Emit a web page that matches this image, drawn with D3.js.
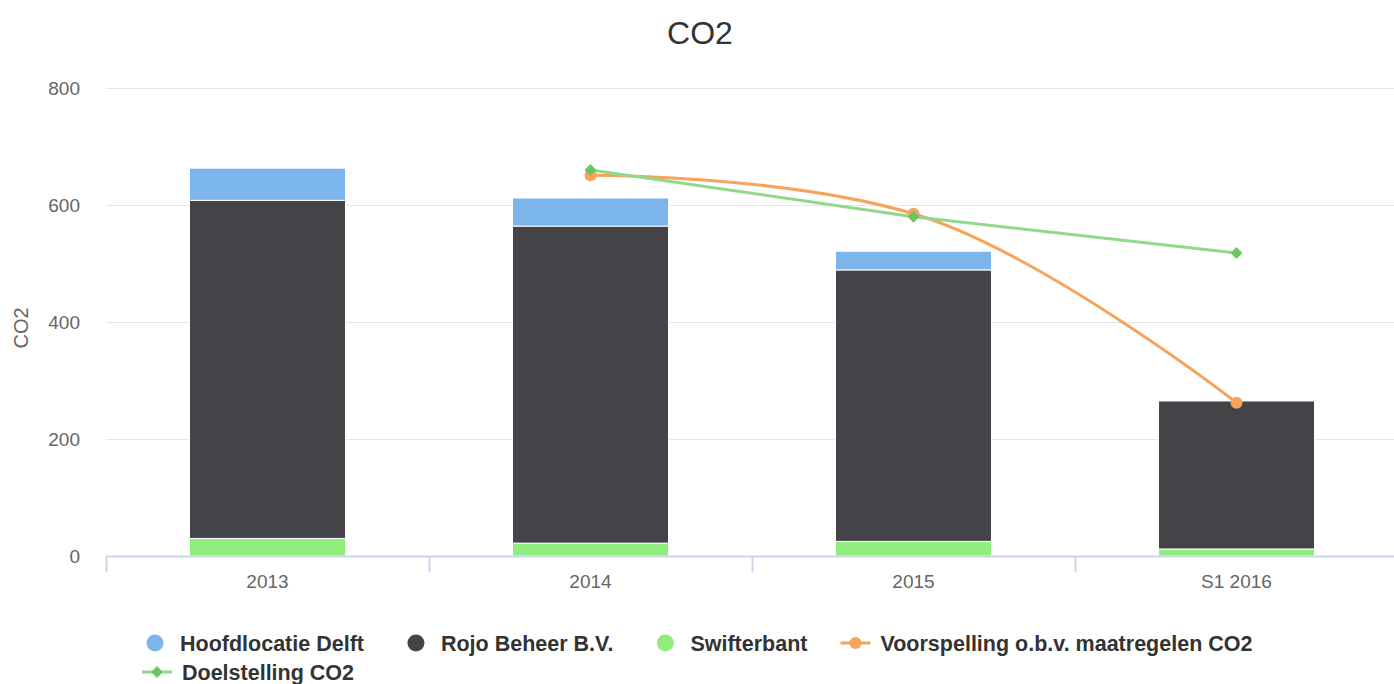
<!DOCTYPE html>
<html>
<head>
    <title>CO2</title>
    <script src="https://cdnjs.cloudflare.com/ajax/libs/d3/7.8.5/d3.min.js"></script>
    <style>
        body {
            margin: 0;
            padding: 0;
            background: white;
            font-family: "Liberation Sans", Helvetica, Arial, sans-serif;
        }
    </style>
</head>
<body>
    <svg id="chart" width="1394" height="684"></svg>
    <script>
        // Data
        const categories = ['2013', '2014', '2015', 'S1 2016'];
        const stackNames = ['Hoofdlocatie Delft', 'Rojo Beheer B.V.', 'Swifterbant'];
        const hoofdlocatie = [55, 48, 32, 0];
        const rojo = [578, 542, 464, 253];
        const swifterbant = [30, 22, 25, 12];
        const voorspelling = [null, 651, 585, 262];
        const doelstelling = [null, 660, 580, 518];
        const yTicks = [0, 200, 400, 600, 800];

        const colors = {
            'Hoofdlocatie Delft': '#7cb5ec',
            'Rojo Beheer B.V.': '#434348',
            'Swifterbant': '#90ed7d'
        };
        const orange = '#f7a35c';
        const green = '#90d98a';

        const width = 1394, height = 684;
        const margin = {top: 88, left: 106, right: -4, bottom: 128};
        const svg = d3.select('#chart');

        const x = d3.scaleBand()
            .domain(categories)
            .range([margin.left, width - margin.right]);
        const y = d3.scaleLinear()
            .domain([0, 800])
            .range([height - margin.bottom, margin.top]);

        // Title
        svg.append('text')
            .attr('x', width / 2 + 3)
            .attr('y', 44)
            .attr('text-anchor', 'middle')
            .attr('font-size', '32px')
            .attr('fill', '#333')
            .text('CO2');

        // Gridlines
        svg.append('g')
            .selectAll('line')
            .data(yTicks.filter(d => d > 0))
            .join('line')
            .attr('x1', margin.left)
            .attr('x2', width)
            .attr('y1', d => Math.round(y(d)) + 0.5)
            .attr('y2', d => Math.round(y(d)) + 0.5)
            .attr('stroke', '#e6e6e6');

        // Y labels
        svg.append('g')
            .selectAll('text')
            .data(yTicks)
            .join('text')
            .attr('x', 80)
            .attr('y', d => y(d) + 7)
            .attr('text-anchor', 'end')
            .attr('font-size', '19px')
            .attr('fill', '#666')
            .text(d => d);

        svg.append('text')
            .attr('transform', `translate(28,${y(400) + 6}) rotate(-90)`)
            .attr('text-anchor', 'middle')
            .attr('font-size', '20px')
            .attr('fill', '#666')
            .text('CO2');

        // Stacked bars
        const rows = categories.map((c, i) => ({
            cat: c,
            'Hoofdlocatie Delft': hoofdlocatie[i],
            'Rojo Beheer B.V.': rojo[i],
            'Swifterbant': swifterbant[i]
        }));
        const stack = d3.stack().keys(stackNames.slice().reverse());
        const layers = stack(rows);
        const barW = 156;

        svg.append('g')
            .selectAll('g')
            .data(layers)
            .join('g')
            .attr('fill', d => colors[d.key])
            .selectAll('rect')
            .data(d => d.filter(p => p[1] - p[0] > 0))
            .join('rect')
            .attr('x', d => x(d.data.cat) + x.bandwidth() / 2 - barW / 2)
            .attr('width', barW)
            .attr('y', d => y(d[1]))
            .attr('height', d => y(d[0]) - y(d[1]))
            .attr('stroke', '#fff')
            .attr('stroke-width', 1);

        // X axis
        const axisY = Math.round(y(0)) + 0.5;
        svg.append('line')
            .attr('x1', margin.left)
            .attr('x2', width)
            .attr('y1', axisY)
            .attr('y2', axisY)
            .attr('stroke', '#ccd6eb')
            .attr('stroke-width', 2);
        svg.append('g')
            .selectAll('line')
            .data(categories)
            .join('line')
            .attr('x1', d => Math.round(x(d)) + 0.5)
            .attr('x2', d => Math.round(x(d)) + 0.5)
            .attr('y1', axisY)
            .attr('y2', axisY + 16)
            .attr('stroke', '#ccd6eb')
            .attr('stroke-width', 2);
        svg.append('g')
            .selectAll('text')
            .data(categories)
            .join('text')
            .attr('x', d => x(d) + x.bandwidth() / 2)
            .attr('y', 588)
            .attr('text-anchor', 'middle')
            .attr('font-size', '19px')
            .attr('fill', '#666')
            .text(d => d);

        // Highcharts-like spline path
        function splinePath(pts) {
            const s = 1.5, den = s + 1;
            const cp = pts.map((p, i) => {
                if (i === 0 || i === pts.length - 1) return {lx: p[0], ly: p[1], rx: p[0], ry: p[1]};
                const a = pts[i - 1], b = pts[i + 1];
                let lx = (s * p[0] + a[0]) / den, ly = (s * p[1] + a[1]) / den;
                let rx = (s * p[0] + b[0]) / den, ry = (s * p[1] + b[1]) / den;
                const corr = ((ry - ly) * (rx - p[0])) / (rx - lx) + p[1] - ry;
                ly += corr; ry += corr;
                if (ly > a[1] && ly > p[1]) { ly = Math.max(a[1], p[1]); ry = 2 * p[1] - ly; }
                else if (ly < a[1] && ly < p[1]) { ly = Math.min(a[1], p[1]); ry = 2 * p[1] - ly; }
                if (ry > b[1] && ry > p[1]) { ry = Math.max(b[1], p[1]); ly = 2 * p[1] - ry; }
                else if (ry < b[1] && ry < p[1]) { ry = Math.min(b[1], p[1]); ly = 2 * p[1] - ry; }
                return {lx, ly, rx, ry};
            });
            let d = `M${pts[0][0]},${pts[0][1]}`;
            for (let i = 1; i < pts.length; i++) {
                d += `C${cp[i - 1].rx},${cp[i - 1].ry} ${cp[i].lx},${cp[i].ly} ${pts[i][0]},${pts[i][1]}`;
            }
            return d;
        }

        const cx = c => x(c) + x.bandwidth() / 2;
        const vPts = categories.map((c, i) => [cx(c), voorspelling[i] == null ? null : y(voorspelling[i])])
            .filter(p => p[1] != null);
        const dPts = categories.map((c, i) => [cx(c), doelstelling[i] == null ? null : y(doelstelling[i])])
            .filter(p => p[1] != null);

        // Voorspelling (spline)
        svg.append('path')
            .attr('d', splinePath(vPts))
            .attr('fill', 'none')
            .attr('stroke', orange)
            .attr('stroke-width', 3);
        svg.append('g')
            .selectAll('circle')
            .data(vPts)
            .join('circle')
            .attr('cx', d => d[0])
            .attr('cy', d => d[1])
            .attr('r', 6)
            .attr('fill', orange);

        // Doelstelling (line)
        svg.append('path')
            .attr('d', d3.line()(dPts))
            .attr('fill', 'none')
            .attr('stroke', green)
            .attr('stroke-width', 3);
        const diamond = d3.symbol().type(d3.symbolDiamond2).size(90);
        svg.append('g')
            .selectAll('path')
            .data(dPts)
            .join('path')
            .attr('transform', d => `translate(${d[0]},${d[1]})`)
            .attr('d', diamond)
            .attr('fill', '#6cc463');

        // Legend
        const legendItems = [
            {name: 'Hoofdlocatie Delft', type: 'dot', color: colors['Hoofdlocatie Delft']},
            {name: 'Rojo Beheer B.V.', type: 'dot', color: colors['Rojo Beheer B.V.']},
            {name: 'Swifterbant', type: 'dot', color: colors['Swifterbant']},
            {name: 'Voorspelling o.b.v. maatregelen CO2', type: 'circle', color: orange},
            {name: 'Doelstelling CO2', type: 'diamond', color: green}
        ];
        const legend = svg.append('g');
        let lx = 147, ly = 644;
        legendItems.forEach((item, i) => {
            if (i === 4) { lx = 142; ly = 673; }
            else if (item.type !== 'dot') lx -= 11;
            const g = legend.append('g').attr('transform', `translate(${lx},${ly})`);
            let textX;
            if (item.type === 'dot') {
                g.append('circle').attr('cx', 8).attr('cy', -1).attr('r', 8.5).attr('fill', item.color);
                textX = 33;
            } else {
                g.append('line').attr('x1', 0).attr('x2', 30).attr('y1', -1).attr('y2', -1)
                    .attr('stroke', item.color).attr('stroke-width', 3);
                if (item.type === 'circle') {
                    g.append('circle').attr('cx', 15).attr('cy', -1).attr('r', 6).attr('fill', item.color);
                } else {
                    g.append('path').attr('transform', 'translate(15,-1)').attr('d', diamond).attr('fill', '#6cc463');
                }
                textX = 40;
            }
            const t = g.append('text')
                .attr('x', textX)
                .attr('y', 7)
                .attr('font-size', '21.5px')
                .attr('font-weight', 'bold')
                .attr('fill', '#333')
                .text(item.name);
            lx += textX + t.node().getComputedTextLength() + 44;
        });
    </script>
</body>
</html>
